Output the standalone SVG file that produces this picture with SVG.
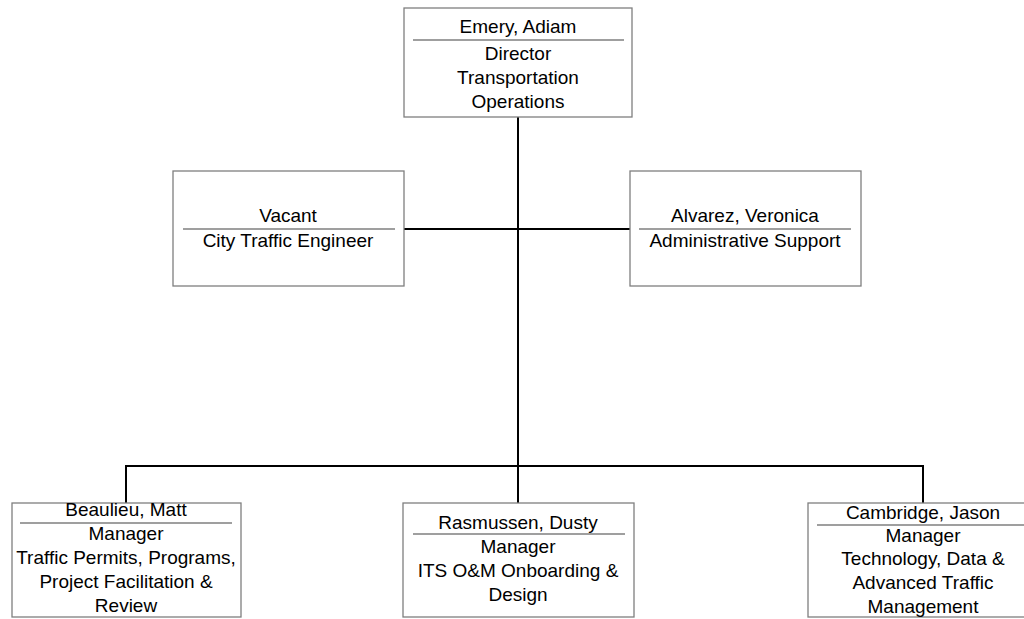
<svg xmlns="http://www.w3.org/2000/svg" width="1024" height="619" viewBox="0 0 1024 619">
<style>
.box{fill:#fff;stroke:#7f7f7f;stroke-width:1.3}
.sep{stroke:#7f7f7f;stroke-width:1.3}
.conn{stroke:#000;stroke-width:2;fill:none}
text{font-family:"Liberation Sans",Arial,sans-serif;font-size:19px;fill:#000;text-anchor:middle}
</style>
<rect width="1024" height="619" fill="#fff"/>
<g id="connectors">
<line class="conn" x1="518" y1="117" x2="518" y2="503"/>
<line class="conn" x1="404" y1="229" x2="630" y2="229"/>
<polyline class="conn" points="126,503 126,466 923,466 923,503"/>
</g>
<g id="node-emery">
<rect class="box" x="404" y="8" width="228" height="109"/>
<text x="518" y="33">Emery, Adiam</text>
<line class="sep" x1="413" y1="40" x2="624" y2="40"/>
<text x="518" y="60">Director</text>
<text x="518" y="84">Transportation</text>
<text x="518" y="108">Operations</text>
</g>
<g id="node-vacant">
<rect class="box" x="173" y="171" width="231" height="115"/>
<text x="288" y="222">Vacant</text>
<line class="sep" x1="183" y1="229" x2="395" y2="229"/>
<text x="288" y="247">City Traffic Engineer</text>
</g>
<g id="node-alvarez">
<rect class="box" x="630" y="171" width="231" height="115"/>
<text x="745" y="222">Alvarez, Veronica</text>
<line class="sep" x1="639" y1="229" x2="851" y2="229"/>
<text x="745" y="247">Administrative Support</text>
</g>
<g id="node-beaulieu">
<rect class="box" x="12" y="503" width="229" height="114"/>
<text x="126" y="516">Beaulieu, Matt</text>
<line class="sep" x1="20" y1="523" x2="232" y2="523"/>
<text x="126" y="540">Manager</text>
<text x="126" y="564">Traffic Permits, Programs,</text>
<text x="126" y="588">Project Facilitation &amp;</text>
<text x="126" y="612">Review</text>
</g>
<g id="node-rasmussen">
<rect class="box" x="403" y="503" width="231" height="114"/>
<text x="518" y="529">Rasmussen, Dusty</text>
<line class="sep" x1="413" y1="534" x2="625" y2="534"/>
<text x="518" y="553">Manager</text>
<text x="518" y="577">ITS O&amp;M Onboarding &amp;</text>
<text x="518" y="601">Design</text>
</g>
<g id="node-cambridge">
<rect class="box" x="808" y="503" width="231" height="114"/>
<text x="923" y="519">Cambridge, Jason</text>
<line class="sep" x1="817" y1="525" x2="1030" y2="525"/>
<text x="923" y="542">Manager</text>
<text x="923" y="565">Technology, Data &amp;</text>
<text x="923" y="589">Advanced Traffic</text>
<text x="923" y="613">Management</text>
</g>
</svg>
